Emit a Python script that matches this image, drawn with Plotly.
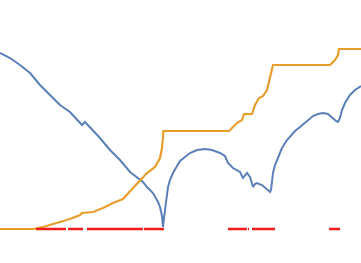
import plotly.graph_objects as go

# Blue series (x, value)
blue_x = [0, 10, 20, 30, 40, 50, 60, 70, 80, 82, 85, 90, 100, 110, 120, 130, 140, 143, 147,
          153, 158, 160, 162, 163, 165, 168, 170, 173, 177, 180, 185, 190, 197, 205, 212, 220, 225, 228,
          233, 240, 243, 245, 247, 250, 253, 255, 257, 262, 265, 267, 270, 271, 273, 275, 277, 282, 287, 295,
          300, 307, 313, 318, 323, 328, 332, 336, 338, 340, 342, 345, 350, 355, 361]
blue_y = [176, 171, 164, 156, 144, 134, 124, 117, 106, 104, 107, 102, 91, 79, 69, 57, 49, 47, 42,
          36, 27, 22, 13, 2, 19, 42, 49, 56, 63, 68, 72, 76, 79, 80, 79, 76, 73, 66,
          61, 57, 51, 54, 56, 52, 42, 45, 46, 44, 41, 39, 37, 39, 56, 64, 69, 81, 89, 98,
          102, 108, 113, 115, 116, 115, 111, 108, 107, 111, 119, 126, 134, 139, 143]

# Orange series
orange_x = [0, 33, 43, 57, 70, 80, 82, 93, 103, 113, 123, 133, 140, 147, 155, 160, 162, 163, 163.5,
            229, 233, 237, 242, 244, 252, 255, 259, 263, 267, 270, 273, 330, 335, 338, 339, 361]
orange_y = [0, 0, 2, 6, 10, 14, 16, 17, 21, 26, 30, 41, 48, 56, 62, 71, 81, 92, 98,
            98, 102, 106, 109, 115, 115, 124, 131, 133, 139, 151, 164, 164, 169, 174, 180, 180]

# Red flag segments (start, end) at zero level
red_segments = [(36, 66), (68, 83), (87, 143), (144, 164), (228, 247), (248, 249), (252, 275), (329, 340)]

red_x, red_y = [], []
for a, b in red_segments:
    red_x += [a, b, None]
    red_y += [0, 0, None]

fig = go.Figure()
fig.add_trace(go.Scatter(x=blue_x, y=blue_y, mode="lines",
                         line=dict(color="#5b7fb7", width=2), showlegend=False))
fig.add_trace(go.Scatter(x=orange_x, y=orange_y, mode="lines",
                         line=dict(color="#e89e2c", width=2.2), showlegend=False))
fig.add_trace(go.Scatter(x=red_x, y=red_y, mode="lines",
                         line=dict(color="#f21c1c", width=2.5), showlegend=False))

fig.update_layout(
    width=361, height=263,
    margin=dict(l=0, r=0, t=0, b=0),
    paper_bgcolor="white", plot_bgcolor="white",
    xaxis=dict(range=[0, 361], visible=False, fixedrange=True),
    yaxis=dict(range=[-34, 229], visible=False, fixedrange=True),
)
fig.write_html("out.html", config={"displayModeBar": False},
               post_script="document.body.style.margin='0px';document.body.style.overflow='hidden';")
